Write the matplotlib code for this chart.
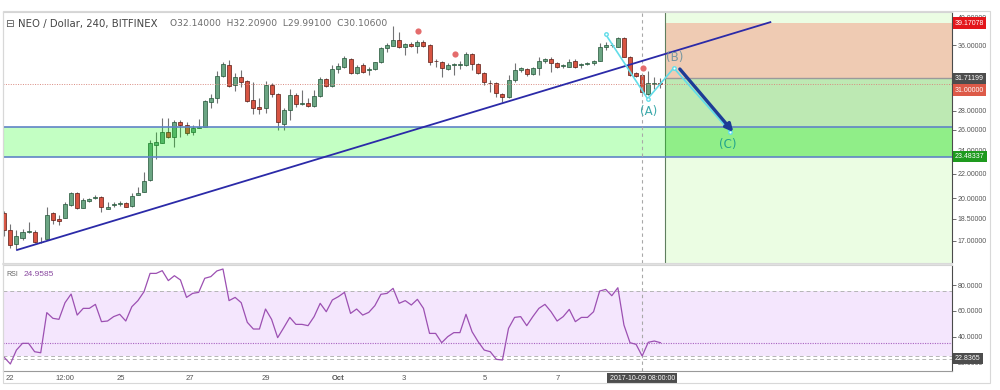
import matplotlib
matplotlib.use('Agg')
import matplotlib.pyplot as plt
import matplotlib.ticker as mticker
import matplotlib.transforms as mtrans
from matplotlib.patches import Rectangle
from matplotlib.lines import Line2D
import numpy as np

plt.rcParams['font.family'] = ['Liberation Sans', 'DejaVu Sans']

# NEO / Dollar, 240 min candles (Bitfinex)
opens = [18.95, 17.73, 16.78, 17.17, 17.59, 17.61, 16.93, 17.15, 18.90, 18.49,
         18.58, 19.51, 20.40, 19.31, 19.84, 20.04, 20.14, 19.24, 19.53, 19.59,
         19.64, 19.46, 20.29, 20.53, 21.47, 24.58, 24.77, 25.77, 25.34, 26.78,
         26.53, 25.77, 26.23, 26.33, 28.97, 29.35, 32.00, 33.35, 30.89, 31.81,
         31.37, 29.16, 28.36, 28.25, 30.89, 29.81, 26.60, 28.07, 29.73, 28.75,
         28.86, 28.50, 29.65, 31.57, 30.81, 32.80, 33.13, 34.12, 32.30, 33.35,
         32.67, 32.84, 33.69, 35.63, 35.90, 36.70, 35.68, 36.14, 35.86, 36.46,
         36.00, 33.90, 33.77, 32.84, 33.35, 33.41, 33.35, 34.74, 33.44, 32.30,
         31.17, 31.17, 29.84, 29.46, 31.49, 32.71, 32.80, 32.18, 32.93, 33.86,
         34.12, 33.56, 33.22, 33.13, 33.86, 33.41, 33.54, 33.56, 33.90, 35.77,
         35.96, 35.77, 36.94, 34.42, 32.30, 32.14, 29.89, 31.01, 31.09]
highs = [19.09, 18.14, 17.73, 17.80, 18.30, 17.73, 17.24, 19.38, 19.02, 18.78,
         19.71, 20.48, 20.48, 20.02, 20.06, 20.27, 20.22, 19.76, 19.76, 19.81,
         19.71, 20.45, 20.88, 22.14, 25.02, 25.83, 27.25, 27.25, 27.01, 27.01,
         26.84, 26.50, 27.11, 29.16, 29.84, 32.62, 33.77, 33.99, 32.37, 32.71,
         31.49, 31.28, 29.35, 31.40, 31.09, 29.92, 28.25, 30.38, 29.92, 30.30,
         29.35, 30.30, 31.88, 31.69, 33.35, 33.56, 34.52, 34.30, 33.35, 33.64,
         33.13, 33.77, 35.77, 36.24, 38.77, 37.89, 36.32, 36.37, 36.70, 36.70,
         36.14, 34.12, 33.90, 33.56, 33.64, 33.90, 35.09, 34.88, 33.56, 32.42,
         31.49, 31.28, 29.99, 32.09, 33.56, 33.13, 33.00, 33.05, 34.42, 34.30,
         34.35, 33.69, 33.44, 34.08, 34.12, 33.56, 33.77, 33.99, 36.24, 36.46,
         36.24, 37.17, 37.17, 34.52, 32.50, 32.209, 32.60, 31.88, 31.69]
lows = [17.32, 16.53, 16.48, 17.06, 17.51, 16.89, 16.89, 17.11, 18.14, 18.07,
        18.54, 19.46, 19.19, 19.27, 19.76, 19.97, 19.02, 19.19, 19.38, 19.46,
        19.34, 19.38, 20.27, 20.48, 21.41, 23.24, 24.71, 25.22, 24.39, 25.34,
        25.51, 25.51, 26.17, 26.30, 28.25, 28.80, 31.88, 30.69, 30.22, 30.69,
        28.97, 27.64, 27.64, 27.72, 29.53, 26.00, 26.00, 27.01, 28.43, 28.61,
        28.36, 28.43, 29.53, 30.69, 30.69, 32.30, 32.93, 32.21, 32.18, 32.30,
        32.09, 32.71, 33.56, 35.09, 35.86, 35.55, 34.65, 35.77, 34.88, 35.77,
        33.35, 33.13, 31.88, 32.71, 32.09, 32.80, 33.26, 32.71, 32.18, 30.89,
        30.10, 29.46, 28.97, 29.35, 31.28, 32.50, 31.97, 32.09, 32.09, 33.64,
        32.50, 32.93, 32.93, 33.05, 32.93, 32.93, 33.35, 33.35, 33.82, 35.32,
        35.68, 35.68, 34.35, 31.97, 31.81, 29.991, 29.73, 30.38, 30.50]
closes = [17.73, 16.74, 17.32, 17.61, 17.66, 16.93, 16.92, 18.76, 18.42, 18.35,
          19.56, 20.40, 19.31, 19.89, 19.94, 20.09, 19.34, 19.34, 19.59, 19.64,
          19.38, 20.19, 20.45, 21.39, 24.77, 24.83, 25.77, 25.34, 26.78, 26.50,
          25.67, 26.20, 26.33, 29.05, 29.35, 31.97, 33.48, 30.81, 31.81, 31.28,
          29.08, 28.32, 28.21, 30.89, 29.81, 26.83, 28.07, 29.73, 28.69, 28.83,
          28.53, 29.61, 31.57, 30.81, 32.80, 33.22, 34.21, 32.30, 33.13, 32.42,
          32.84, 33.69, 35.63, 36.00, 36.70, 35.77, 36.10, 35.86, 36.46, 35.86,
          33.77, 33.82, 32.93, 33.35, 33.48, 33.48, 34.74, 33.44, 32.30, 31.21,
          31.09, 29.92, 29.46, 31.49, 32.71, 33.00, 32.21, 32.93, 33.86, 34.12,
          33.56, 33.13, 33.29, 33.77, 33.13, 33.48, 33.60, 33.90, 35.77, 36.00,
          36.04, 36.94, 34.42, 32.09, 31.97, 30.106, 31.09, 31.17, 31.00]
rsi = [23.9, 18.8, 29.6, 34.8, 34.8, 28.3, 27.5, 58.6, 54.2, 53.4,
       66.3, 73.0, 56.7, 61.9, 61.9, 65.0, 51.6, 52.1, 55.5, 57.3,
       52.1, 63.2, 67.9, 74.8, 89.0, 89.0, 91.1, 83.4, 87.2, 83.9,
       70.4, 73.5, 74.3, 85.2, 86.5, 90.9, 92.4, 67.9, 70.4, 66.3,
       51.1, 45.9, 45.9, 61.4, 53.4, 39.2, 46.9, 54.9, 49.5, 49.5,
       48.5, 55.5, 65.8, 59.3, 68.4, 71.0, 74.3, 58.0, 61.4, 56.7,
       58.8, 64.0, 72.8, 73.5, 77.4, 65.8, 67.9, 64.5, 68.9, 61.9,
       42.5, 42.5, 35.3, 40.0, 43.1, 43.1, 57.3, 43.8, 36.1, 29.6,
       28.3, 22.4, 21.9, 46.4, 54.9, 55.5, 48.5, 55.5, 61.9, 65.0,
       59.3, 52.1, 55.5, 61.1, 51.6, 54.9, 54.9, 59.3, 75.3, 76.6,
       71.7, 77.9, 49.0, 35.3, 34.0, 24.9585, 35.6, 36.6, 35.3]

price_ticks = [40, 36, 28, 26, 24, 22, 20, 18.5, 17]
rsi_ticks = [80, 60, 40, 20]
date_pos = [0.94, 10.0, 19.2, 30.5, 43.0, 55.0, 65.7, 79.1, 91.05]
date_lbl = ['22', '12:00', '25', '27', '29', 'Oct', '3', '5', '7']
cross_i = 105
cross_date = '2017-10-09 08:00:00'
cross_rsi = 22.8365

# drawings
zone_lo, zone_hi = 23.48337, 26.3
stop, entry, target = 39.17078, 31.71199, 23.48337
last_price = 31.0
box_start = 108.8
trend_x = [2.1, 126.1]
trend_y = [16.42, 39.3]
wave_x = [99.0, 105.9, 110.2, 119.5]
wave_y = [37.5, 29.3, 32.97, 25.83]
arrow_from = (111.2, 32.84)
arrow_to = (120.0, 25.80)
dots_x = [68.1, 74.2, 105.1]
dots_y = [38.0, 34.77, 33.0]
wave_lbl = [('(A)', 106.1, 27.96, '#3aa9aa'), ('(B)', 110.3, 34.3, '#7896a0'), ('(C)', 119.1, 24.55, '#22a48c')]

n = len(opens)
x = np.arange(n)
o = np.array(opens); h = np.array(highs); l = np.array(lows); c = np.array(closes)
up = c >= o

fig = plt.figure(figsize=(10, 3.9), dpi=100)
XL = (-0.21, 156.0)

ax = fig.add_axes([0.003, 1 - 263/390, 0.949, 251/390])
ax.set_yscale('log')
ax.set_xlim(*XL)
ax.set_ylim(15.62, 40.86)

# position tool boxes on the right
ax.add_patch(Rectangle((box_start, 10), 200, 50, fc='#ebfde3', ec='none', zorder=0.5))
ax.add_patch(Rectangle((box_start, entry), 200, stop - entry, fc='#efcbb3', ec='none', zorder=0.6))
ax.add_patch(Rectangle((box_start, target), 200, entry - target, fc='#bde9b3', ec='none', zorder=0.6))
ax.plot([box_start, XL[1]], [entry, entry], color='#9a9a9a', lw=1, zorder=0.7)
ax.axvline(box_start, color='#5f7f5f', lw=0.8, zorder=0.8)

# candles
wick_c = '#737375'
ax.vlines(x, l, h, color=wick_c, lw=0.8, zorder=2)
ax.bar(x[up], (c - o)[up], bottom=o[up], width=0.66, color='#6ba583', edgecolor='#225437', lw=0.5, zorder=3)
ax.bar(x[~up], (o - c)[~up], bottom=c[~up], width=0.66, color='#d75442', edgecolor='#5b1a13', lw=0.5, zorder=3)

# support zone over everything
ax.axhspan(zone_lo, zone_hi, fc=(0, 1, 0), alpha=0.235, ec='none', zorder=4)
ax.axhline(zone_hi, color='#6084c6', lw=1.2, zorder=4.1)
ax.axhline(zone_lo, color='#6084c6', lw=1.2, zorder=4.1)

ax.axhline(last_price, color='#d98a80', lw=0.7, ls=(0, (1, 1.5)), zorder=4.2)
ax.axvline(cross_i, color='#a8a8a8', lw=0.8, ls=(0, (3, 3)), zorder=4.3)

ax.plot(trend_x, trend_y, color='#2b2aa8', lw=1.3, zorder=5)
ax.plot(wave_x, wave_y, color='#62dde9', lw=1.2, marker='o', ms=2.5, mfc='white', mec='#62dde9', zorder=5)
ax.annotate('', xy=arrow_to, xytext=arrow_from,
            arrowprops=dict(arrowstyle='-|>', color='#1d3c96', lw=2.4, mutation_scale=11, shrinkA=0, shrinkB=0), zorder=6)
ax.scatter(dots_x, dots_y, s=20, color='#e46c6c', zorder=6, lw=0)
for t, xx, yy, col in wave_lbl:
    ax.text(xx, yy, t, color=col, fontsize=8.5, ha='center', va='center', family='DejaVu Sans', zorder=6)

# price axis on the right
ax.yaxis.tick_right()
ax.yaxis.set_major_locator(mticker.FixedLocator(price_ticks))
ax.yaxis.set_minor_locator(mticker.NullLocator())
ax.yaxis.set_major_formatter(mticker.FuncFormatter(lambda v, p: '%.5f' % v))
ax.tick_params(axis='y', labelsize=5, colors='#555555', length=3, width=0.6, pad=1)
ax.set_xticks([])
for s in ['left', 'top', 'bottom']:
    ax.spines[s].set_color('#d5d5d5')
ax.spines['right'].set_color('#4a4a4a')
ax.spines['right'].set_linewidth(0.8)

tr = mtrans.blended_transform_factory(ax.transAxes, ax.transData)
for val, yy, col in [(stop, stop, '#e3161b'), (entry, entry, '#4d4d4d'),
                     (last_price, 30.3, '#dd5a48'), (target, target, '#1e9a1e')]:
    ax.text(1.003, yy, '%.5f' % val, transform=tr, fontsize=5, color='white', ha='left', va='center',
            bbox=dict(boxstyle='square,pad=0.3', fc=col, ec='none'), clip_on=False, zorder=10)

# header
fig.text(0.005, 1 - 24/390, '\u229f', fontsize=7.5, color='#555555', va='center', family='DejaVu Sans')
fig.text(0.018, 1 - 24/390, 'NEO / Dollar, 240, BITFINEX', fontsize=7.3, color='#444444', va='center', family='DejaVu Sans')
fig.text(0.170, 1 - 24/390, 'O32.14000  H32.20900  L29.99100  C30.10600', fontsize=6.6, color='#6b6b6b',
         va='center', family='DejaVu Sans')

# RSI panel
ax2 = fig.add_axes([0.003, 1 - 370.7/390, 0.949, 105.7/390])
ax2.set_xlim(*XL)
ax2.set_ylim(13.6, 95.5)
ax2.axhspan(25, 75, fc='#f4e6fd', ec='none', zorder=0.5)
ax2.axhline(75, color='#b5b5b5', lw=0.7, ls=(0, (4, 3)), zorder=1)
ax2.axhline(25, color='#b5b5b5', lw=0.7, ls=(0, (4, 3)), zorder=1)
ax2.axhline(cross_rsi, color='#b5b5b5', lw=0.7, ls=(0, (4, 3)), zorder=1)
ax2.axhline(rsi[-1], color='#a862c0', lw=0.8, ls=(0, (1, 1.2)), zorder=1.5)
ax2.axvline(cross_i, color='#a8a8a8', lw=0.8, ls=(0, (3, 3)), zorder=1.5)
ax2.plot(x, rsi, color='#9c50b2', lw=0.9, zorder=2)

ax2.yaxis.tick_right()
ax2.yaxis.set_major_locator(mticker.FixedLocator(rsi_ticks))
ax2.yaxis.set_major_formatter(mticker.FuncFormatter(lambda v, p: '%.4f' % v))
ax2.tick_params(axis='y', labelsize=5, colors='#555555', length=3, width=0.6, pad=1)
ax2.set_xticks(date_pos)
ax2.set_xticklabels(date_lbl)
ax2.tick_params(axis='x', labelsize=5.5, colors='#555555', length=0, pad=3)
ax2.get_xticklabels()[5].set_fontweight('bold')
ax2.spines['left'].set_color('#d5d5d5')
ax2.spines['top'].set_color('#d5d5d5')
ax2.spines['bottom'].set_color('#9a9a9a')
ax2.spines['right'].set_color('#4a4a4a')
ax2.spines['right'].set_linewidth(0.8)

tr2 = mtrans.blended_transform_factory(ax2.transAxes, ax2.transData)
ax2.text(1.003, cross_rsi, '%.4f' % cross_rsi, transform=tr2, fontsize=5, color='white', ha='left', va='center',
         bbox=dict(boxstyle='square,pad=0.3', fc='#4d4d4d', ec='none'), clip_on=False, zorder=10)
tr3 = mtrans.blended_transform_factory(ax2.transData, ax2.transAxes)
ax2.text(cross_i, -0.07, cross_date, transform=tr3, fontsize=5, color='white', ha='center', va='center',
         bbox=dict(boxstyle='square,pad=0.3', fc='#4d4d4d', ec='none'), clip_on=False, zorder=10)
ax2.text(0.004, 0.91, 'RSI', transform=ax2.transAxes, fontsize=5, color='#666666', va='center')
ax2.text(0.022, 0.91, '%.4f' % rsi[cross_i], transform=ax2.transAxes, fontsize=6, color='#8a4aa0', va='center')

# outer frame
fig.add_artist(Rectangle((0.003, 1 - 383/390), 0.987, 372/390, transform=fig.transFigure,
                         fill=False, ec='#d8d8d8', lw=0.8))
fig.add_artist(Line2D([0.003, 0.952], [1 - 264/390, 1 - 264/390], transform=fig.transFigure,
                      color='#dcdcdc', lw=1.2))

fig.savefig('out.png', dpi=100)
